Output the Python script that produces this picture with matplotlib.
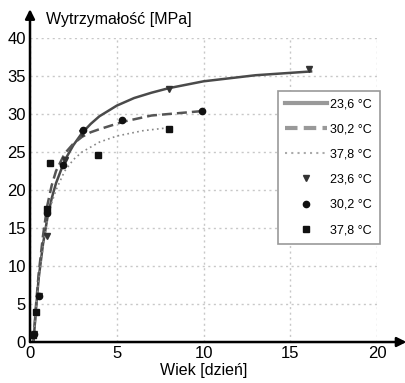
import matplotlib
matplotlib.use("Agg")
import matplotlib.pyplot as plt
from matplotlib.lines import Line2D

plt.rcParams['font.family'] = ['Liberation Sans', 'DejaVu Sans']

# Fitted curves
curve_236_t = [0.2, 0.35, 0.5, 0.75, 1, 1.25, 1.5, 2, 2.5, 3, 3.5, 4, 5, 6, 7, 8, 10, 13, 16.2]
curve_236_s = [0, 4.5, 8.4, 12.9, 16.3, 18.9, 20.9, 23.9, 25.9, 27.5, 28.7, 29.7, 31.1, 32.1, 32.8, 33.4, 34.3, 35.1, 35.6]
curve_302_t = [0.2, 0.35, 0.5, 0.75, 1, 1.25, 1.5, 2, 2.5, 3, 3.5, 4, 5.4, 7, 8.5, 10]
curve_302_s = [0, 5.0, 9.0, 14.0, 18.0, 20.6, 22.5, 24.8, 26.1, 27.0, 27.6, 28.0, 29.0, 29.8, 30.1, 30.4]
curve_378_t = [0.2, 0.35, 0.5, 0.75, 1, 1.25, 1.5, 2, 2.5, 3, 4, 5, 6.5, 8]
curve_378_s = [0, 4.5, 8.0, 12.5, 16.0, 18.3, 20.0, 22.5, 24.0, 25.0, 26.3, 27.1, 27.8, 28.2]

# Measured points
pts_236_t = [0.25, 0.5, 1, 2, 3, 8, 16.1]
pts_236_s = [1.0, 6.0, 14.0, 24.0, 27.5, 33.3, 35.9]
pts_302_t = [0.25, 0.5, 1, 1.9, 3.05, 5.3, 9.9]
pts_302_s = [1.0, 6.0, 17.0, 23.3, 27.9, 29.2, 30.4]
pts_378_t = [0.2, 0.35, 1.0, 1.15, 3.9, 8.0]
pts_378_s = [0.9, 4.0, 17.5, 23.5, 24.6, 28.0]

labels = ['23,6 °C', '30,2 °C', '37,8 °C']
xticks = [0, 5, 10, 15, 20]
yticks = [0, 5, 10, 15, 20, 25, 30, 35, 40]

fig = plt.figure(figsize=(4.06, 3.83), dpi=100)
ax = fig.add_axes([0.0739, 0.107, 0.8547, 0.7938])

ax.plot(curve_236_t, curve_236_s, color='#4a4a4a', lw=1.8, ls='-', zorder=3)
ax.plot(curve_302_t, curve_302_s, color='#555555', lw=1.8, ls=(0, (4, 2)), zorder=3)
ax.plot(curve_378_t, curve_378_s, color='#888888', lw=1.2, ls=(0, (1, 2)), zorder=3)

ax.plot(pts_236_t, pts_236_s, ls='none', marker='v', ms=4.5, color='#333333', zorder=4)
ax.plot(pts_302_t, pts_302_s, ls='none', marker='o', ms=4.5, color='#111111', zorder=4)
ax.plot(pts_378_t, pts_378_s, ls='none', marker='s', ms=4.5, color='#111111', zorder=4)

ax.set_xlim(0, 20)
ax.set_ylim(0, 40)
ax.set_xticks(xticks)
ax.set_yticks(yticks)
ax.tick_params(length=0, labelsize=12, pad=3)
ax.grid(True, color='#c8c8c8', ls=(0, (1.5, 2.5)), lw=1.0)
for s in ax.spines.values():
    s.set_visible(False)

# Arrowed axes
ax.annotate('', xy=(1.085, 0), xytext=(0, 0), xycoords='axes fraction',
            arrowprops=dict(arrowstyle='-|>', color='black', lw=1.8,
                            mutation_scale=14, shrinkA=0, shrinkB=0),
            annotation_clip=False)
ax.annotate('', xy=(0, 1.095), xytext=(0, 0), xycoords='axes fraction',
            arrowprops=dict(arrowstyle='-|>', color='black', lw=1.8,
                            mutation_scale=14, shrinkA=0, shrinkB=0),
            annotation_clip=False)

ax.text(0.045, 1.06, 'Wytrzymałość [MPa]', transform=ax.transAxes,
        fontsize=11.5, ha='left', va='center')
ax.set_xlabel('Wiek [dzień]', fontsize=11.5, labelpad=1)

handles = [
    Line2D([], [], color='#999999', lw=3, ls='-'),
    Line2D([], [], color='#999999', lw=3, ls=(0, (3, 1.5))),
    Line2D([], [], color='#aaaaaa', lw=1.5, ls=(0, (1, 2))),
    Line2D([], [], ls='none', marker='v', ms=4.5, color='#333333'),
    Line2D([], [], ls='none', marker='o', ms=4.5, color='#111111'),
    Line2D([], [], ls='none', marker='s', ms=4.5, color='#111111'),
]
leg = ax.legend(handles, labels + labels, loc='upper left',
                bbox_to_anchor=(0.714, 0.826), fontsize=9, frameon=True,
                fancybox=False, edgecolor='#999999', framealpha=1,
                handlelength=3.3, handletextpad=0.3, labelspacing=1.05,
                borderpad=0.6, borderaxespad=0)
leg.get_frame().set_linewidth(1.2)

fig.savefig('out.png', dpi=100)
